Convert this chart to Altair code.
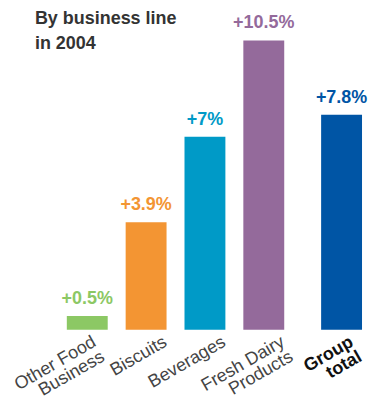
import altair as alt
import pandas as pd

categories = ["Other Food\nBusiness", "Biscuits", "Beverages", "Fresh Dairy\nProducts", "Group\ntotal"]
growth = [0.5, 3.9, 7.0, 10.5, 7.8]
value_labels = ["+0.5%", "+3.9%", "+7%", "+10.5%", "+7.8%"]
colors = ["#8CC864", "#F39533", "#009AC7", "#946A9B", "#0055A5"]
title_lines = ["By business line", "in 2004"]

df = pd.DataFrame({"cat": categories, "growth": growth, "label": value_labels})

FONT = "Liberation Sans"

color_enc = alt.Color("cat:N", scale=alt.Scale(domain=categories, range=colors), legend=None)
y_enc = alt.Y("growth:Q", axis=None, scale=alt.Scale(domain=[0, 10.5], nice=False, zero=True))


def panel(cats, width, bold=False, with_title=False):
    sub = df[df["cat"].isin(cats)]
    if bold:
        label_offset = 6
    else:
        label_offset = {
            "condition": {"test": "indexof(datum.label, 'Other') >= 0", "value": 3},
            "value": 15,
        }
    x_enc = alt.X(
        "cat:N",
        sort=cats,
        title=None,
        scale=alt.Scale(paddingInner=0.3, paddingOuter=0.15),
        axis=alt.Axis(
            labelAngle=-30,
            labelAlign="right",
            labelBaseline="top",
            labelOffset=label_offset,
            labelPadding=3,
            labelFont=FONT,
            labelFontSize=18,
            labelFontWeight="bold" if bold else "normal",
            labelColor="#111111" if bold else "#444444",
            labelLineHeight=17,
            labelExpr="split(datum.label, '\\n')",
            ticks=False,
            domain=False,
            grid=False,
        ),
    )
    base = alt.Chart(sub).encode(x=x_enc, y=y_enc, color=color_enc)
    bars = base.mark_bar(width=41)
    texts = base.mark_text(
        baseline="bottom", dy=-8, font=FONT, fontSize=18, fontWeight="bold"
    ).encode(text="label:N")
    layers = [bars, texts]
    if with_title:
        ttl = alt.Chart(pd.DataFrame({"t": [title_lines]})).mark_text(
            align="left", baseline="top", font=FONT, fontSize=18, fontWeight="bold",
            color="#333333", lineHeight=25,
        ).encode(text="t", x=alt.value(-23), y=alt.value(-30))
        layers.append(ttl)
    return alt.layer(*layers).properties(width=width, height=290)


left = panel(categories[:4], 236, with_title=True)
right = panel(categories[4:], 45, bold=True)

chart = (
    alt.hconcat(left, right, spacing=26, bounds="flush")
    .resolve_scale(y="shared")
    .properties(padding={"left": 11, "top": 10, "right": 0, "bottom": 0})
    .configure_view(stroke=None)
)

chart.save("out.html", embed_options={"renderer": "svg", "actions": False})
